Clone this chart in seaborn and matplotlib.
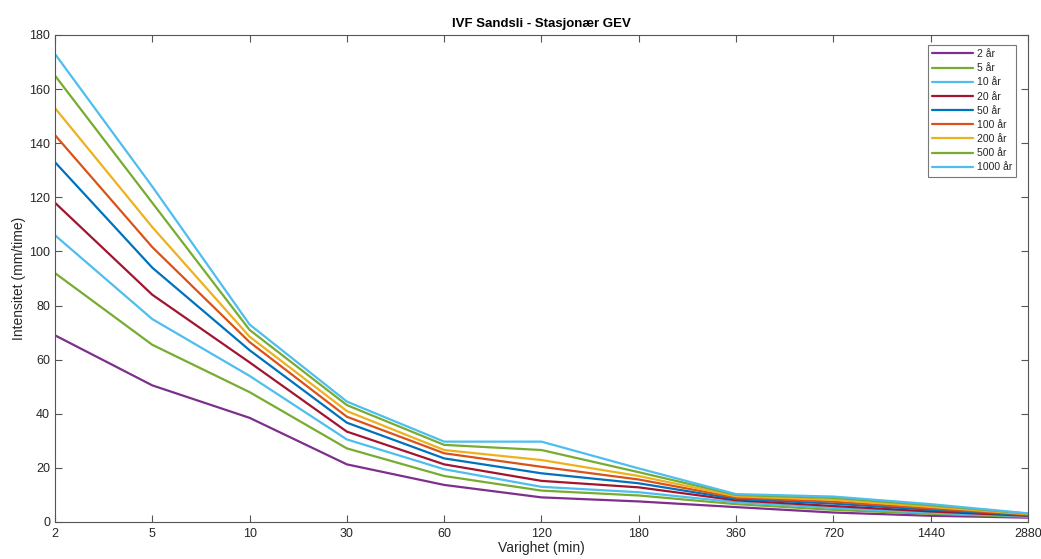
import matplotlib
matplotlib.use("Agg")
import matplotlib.pyplot as plt
import seaborn as sns
import pandas as pd

durations = ["2", "5", "10", "30", "60", "120", "180", "360", "720", "1440", "2880"]
return_periods = ["2 år", "5 år", "10 år", "20 år", "50 år", "100 år", "200 år", "500 år", "1000 år"]

i2 = [69, 50.5, 38.5, 21.3, 13.7, 9.1, 7.6, 5.5, 3.5, 2.3, 1.6]
i5 = [92, 65.5, 48, 27.2, 17, 11.6, 9.8, 6.6, 4.5, 3.0, 1.9]
i10 = [106, 75, 54, 30.5, 19.5, 13, 11, 7.3, 5.2, 3.4, 2.1]
i20 = [118, 84, 59, 33.4, 21.3, 15.2, 12.8, 8, 5.9, 3.9, 2.3]
i50 = [133, 94, 63.5, 36.7, 23.5, 18, 14.3, 8.5, 6.8, 4.5, 2.5]
i100 = [143, 101.6, 66.5, 38.9, 25.4, 20.4, 15.7, 9, 7.5, 5.0, 2.7]
i200 = [153, 109, 68.5, 41, 26.6, 22.9, 17, 9.5, 8.2, 5.6, 2.9]
i500 = [165, 118, 71, 43.2, 28.5, 26.6, 18.4, 10, 8.9, 6.2, 3.1]
i1000 = [173, 124, 73, 44.5, 29.7, 29.7, 19.8, 10.3, 9.4, 6.6, 3.2]

series = [i2, i5, i10, i20, i50, i100, i200, i500, i1000]
colors = ["#7E2F8E", "#77AC30", "#4DBEEE", "#A2142F", "#0072BD",
          "#D95319", "#EDB120", "#77AC30", "#4DBEEE"]

rows = []
for rp, vals in zip(return_periods, series):
    for k, v in enumerate(vals):
        rows.append({"pos": k, "intensity": v, "rp": rp})
df = pd.DataFrame(rows)

sns.set_style("white")
plt.rcParams["font.family"] = ["Liberation Sans", "DejaVu Sans"]

fig = plt.figure(figsize=(10.41, 5.59), dpi=100)
ax = fig.add_axes([0.0528, 0.0662, 0.9347, 0.8712])

sns.lineplot(data=df, x="pos", y="intensity", hue="rp", hue_order=return_periods,
             palette=colors, linewidth=1.6, ax=ax, legend=True)

ax.set_xlim(0, len(durations) - 1)
ax.set_ylim(0, 180)
ax.set_xticks(range(len(durations)))
ax.set_xticklabels(durations)
ax.set_yticks(range(0, 181, 20))

gray = "#262626"
for s in ax.spines.values():
    s.set_visible(True)
    s.set_color("#555555")
    s.set_linewidth(0.8)
ax.tick_params(axis="both", direction="in", length=5, width=0.8, colors="#555555",
               labelcolor=gray, labelsize=9, top=True, right=True, bottom=True, left=True)
ax.tick_params(axis="x", pad=4)

ax.set_xlabel("Varighet (min)", fontsize=10, color=gray, labelpad=1)
ax.set_ylabel("Intensitet (mm/time)", fontsize=10, color=gray, labelpad=2)
ax.set_title("IVF Sandsli - Stasjonær GEV", fontsize=9.5, fontweight="bold", color="black", pad=6)

leg = ax.legend(loc="upper right", bbox_to_anchor=(0.9877, 0.9795), fontsize=7.5,
                handlelength=4.0, handletextpad=0.3, labelspacing=0.4,
                frameon=True, fancybox=False, borderpad=0.4, borderaxespad=0)
leg.get_frame().set_edgecolor("#555555")
leg.get_frame().set_linewidth(0.8)
for line in leg.get_lines():
    line.set_linewidth(1.6)

fig.savefig("out.png", dpi=100)
